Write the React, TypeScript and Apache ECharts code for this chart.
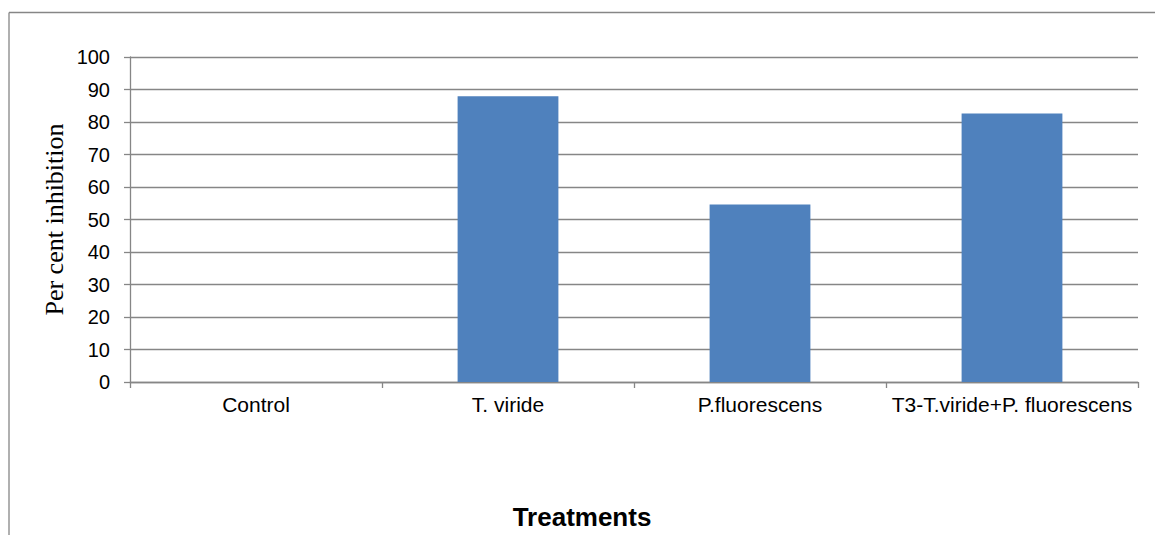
import React, { useEffect, useRef } from "react";
import * as echarts from "echarts";

const categories = ["Control", "T. viride", "P.fluorescens", "T3-T.viride+P. fluorescens"];
const inhibition = [0, 87.9, 54.6, 82.6];
const yTicks = { min: 0, max: 100, interval: 10 };

export default function App() {
  const ref = useRef<HTMLDivElement>(null);
  useEffect(() => {
    document.body.style.margin = "0";
    const chart = echarts.init(ref.current!, null, { renderer: "svg" });
    const gray = "#868686";
    chart.setOption({
      animation: false,
      backgroundColor: "#ffffff",
      grid: { left: 130, right: 17, top: 57, bottom: 153, containLabel: false },
      xAxis: {
        type: "category",
        data: categories,
        boundaryGap: true,
        axisLine: { lineStyle: { color: gray, width: 1.3 } },
        axisTick: { show: true, length: 6, lineStyle: { color: gray, width: 1.3 }, alignWithLabel: false },
        axisLabel: {
          color: "#000",
          fontFamily: "Liberation Sans, Arial, sans-serif",
          fontSize: 21,
          margin: 12,
          interval: 0,
        },
        splitLine: { show: false },
      },
      yAxis: {
        type: "value",
        min: yTicks.min,
        max: yTicks.max,
        interval: yTicks.interval,
        axisLine: { show: true, lineStyle: { color: gray, width: 1.3 } },
        axisTick: { show: true, length: 6, lineStyle: { color: gray, width: 1.3 } },
        axisLabel: {
          color: "#000",
          fontFamily: "Liberation Sans, Arial, sans-serif",
          fontSize: 20,
          margin: 20,
        },
        splitLine: { show: true, lineStyle: { color: gray, width: 1.3 } },
      },
      series: [
        {
          type: "bar",
          data: inhibition,
          barWidth: "40%",
          itemStyle: { color: "#4F81BD", borderWidth: 0 },
        },
      ],
      graphic: [
        {
          type: "line",
          shape: { x1: 9, y1: 12.5, x2: 1155, y2: 12.5 },
          style: { stroke: gray, lineWidth: 1.3 },
          z: 10,
        },
        {
          type: "line",
          shape: { x1: 9, y1: 12.5, x2: 9, y2: 535 },
          style: { stroke: gray, lineWidth: 1.3 },
          z: 10,
        },
        {
          type: "text",
          x: 54,
          y: 219.5,
          rotation: Math.PI / 2,
          style: {
            text: "Per cent inhibition",
            fontFamily: "Liberation Serif, Times New Roman, serif",
            fontSize: 26,
            fill: "#000",
            textAlign: "center",
            textVerticalAlign: "middle",
          },
        },
        {
          type: "text",
          x: 582,
          y: 517,
          style: {
            text: "Treatments",
            fontFamily: "Liberation Sans, Arial, sans-serif",
            fontSize: 26,
            fontWeight: "bold",
            fill: "#000",
            textAlign: "center",
            textVerticalAlign: "middle",
          },
        },
      ],
    });
    return () => chart.dispose();
  }, []);
  return <div ref={ref} style={{ width: 1155, height: 535 }} />;
}
